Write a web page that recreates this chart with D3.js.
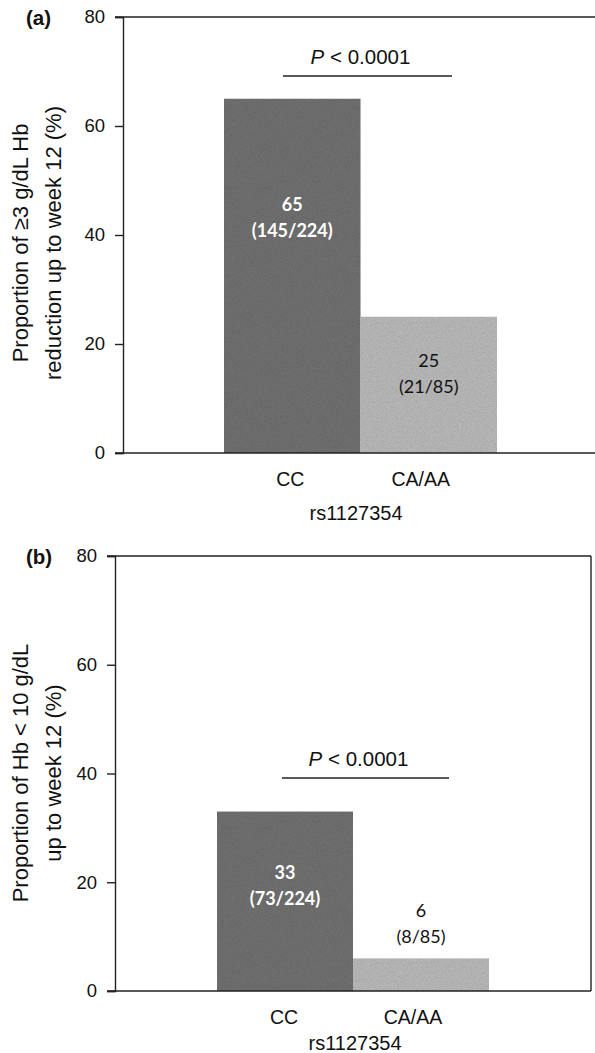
<!DOCTYPE html>
<html>
<head>
<meta charset="utf-8">
<script src="https://cdn.jsdelivr.net/npm/d3@7"></script>
<style>
  html, body { margin: 0; padding: 0; background: #fff; }
  svg { display: block; }
</style>
</head>
<body>
<script>
// ---- data ----
const categories = ["CC", "CA/AA"];
const yTicks = [0, 20, 40, 60, 80];
const valuesA = [65, 25];
const countsA = ["(145/224)", "(21/85)"];
const valuesB = [33, 6];
const countsB = ["(73/224)", "(8/85)"];
const pText = "< 0.0001";
const xTitle = "rs1127354";
const titleA = ["Proportion of \u22653 g/dL Hb", "reduction up to week 12 (%)"];
const titleB = ["Proportion of Hb < 10 g/dL", "up to week 12 (%)"];
const barColors = ["#6e6e6e", "#b6b6b6"];

const W = 595, H = 1053;
const svg = d3.select("body").append("svg").attr("width", W).attr("height", H);
const font = "'Liberation Sans', Arial, sans-serif";
const lblFont = "Lato, 'Open Sans', sans-serif";

function panel(cfg) {
  const g = svg.append("g");
  const y = d3.scaleLinear().domain([0, 80]).range([cfg.y0, cfg.y80]);
  const x = d3.scaleBand().domain(categories).range(cfg.barRange).paddingInner(0).paddingOuter(0);

  // bars
  g.selectAll("rect.bar").data(cfg.values).enter().append("rect")
    .attr("class", "bar")
    .attr("x", (d, i) => x(categories[i]))
    .attr("width", x.bandwidth())
    .attr("y", d => y(d))
    .attr("height", d => y(0) - y(d))
    .attr("fill", (d, i) => barColors[i])
    .attr("filter", "url(#grain)");

  // frame lines
  g.append("line").attr("x1", cfg.axisX - 8).attr("x2", cfg.rightX)
    .attr("y1", y(80)).attr("y2", y(80)).attr("stroke", "#222").attr("stroke-width", 1.4);
  g.append("line").attr("x1", cfg.axisX - 8).attr("x2", cfg.rightX)
    .attr("y1", y(0)).attr("y2", y(0)).attr("stroke", "#222").attr("stroke-width", 1.6);
  if (cfg.rightBorder) {
    g.append("line").attr("x1", cfg.rightX).attr("x2", cfg.rightX)
      .attr("y1", y(80)).attr("y2", y(0)).attr("stroke", "#222").attr("stroke-width", 1.4);
  }

  // y axis
  const ax = g.append("g").attr("transform", `translate(${cfg.axisX},0)`)
    .call(d3.axisLeft(y).tickValues(yTicks).tickSize(8).tickPadding(10));
  ax.select(".domain").attr("stroke", "#222").attr("stroke-width", 1.4);
  ax.selectAll(".tick line").attr("stroke", "#222").attr("stroke-width", 1.4);
  ax.selectAll(".tick text").attr("font-family", font).attr("font-size", 18.5).attr("fill", "#111");

  // x category labels
  g.selectAll("text.cat").data(categories).enter().append("text")
    .attr("x", (d, i) => x(d) + x.bandwidth() / 2 + cfg.catShift[i])
    .attr("y", y(0) + 33)
    .attr("text-anchor", "middle").attr("font-family", font).attr("font-size", 19.5).attr("fill", "#111")
    .text(d => d);
  g.append("text").attr("x", cfg.xTitleX).attr("y", y(0) + cfg.xTitleOff)
    .attr("text-anchor", "middle").attr("font-family", font).attr("font-size", 20).attr("fill", "#111")
    .text(xTitle);

  // y title
  cfg.title.forEach((t, i) => {
    g.append("text")
      .attr("transform", `translate(${cfg.titleX[i]},${cfg.titleY}) rotate(-90)`)
      .attr("text-anchor", "middle").attr("font-family", font).attr("font-size", 22).attr("fill", "#111")
      .text(t);
  });

  // panel letter
  g.append("text").attr("x", 26).attr("y", y(80) + 8)
    .attr("font-family", font).attr("font-weight", "bold").attr("font-size", 20.5).attr("fill", "#111")
    .text(cfg.letter);

  // p-value bracket
  g.append("line").attr("x1", cfg.pLine[0]).attr("x2", cfg.pLine[1])
    .attr("y1", cfg.pY).attr("y2", cfg.pY).attr("stroke", "#222").attr("stroke-width", 1.4);
  const pt = g.append("text").attr("x", (cfg.pLine[0] + cfg.pLine[1]) / 2 - 7).attr("y", cfg.pY - 12)
    .attr("text-anchor", "middle").attr("font-family", font).attr("font-size", 20.5).attr("fill", "#111");
  pt.append("tspan").attr("font-style", "italic").text("P");
  pt.append("tspan").text(" " + pText);

  // bar value labels
  cfg.values.forEach((v, i) => {
    const cx = x(categories[i]) + x.bandwidth() / 2;
    const ly = y(cfg.labelAt[i]);
    const col = cfg.labelColor[i];
    const w = col === "#ffffff" ? 700 : 400;
    g.append("text").attr("x", cx).attr("y", ly).attr("dy", "0.35em")
      .attr("text-anchor", "middle").attr("font-family", lblFont).attr("font-size", 18)
      .attr("fill", col).attr("font-weight", w).text(v);
    g.append("text").attr("x", cx).attr("y", ly + 26).attr("dy", "0.35em")
      .attr("text-anchor", "middle").attr("font-family", lblFont).attr("font-size", 18)
      .attr("fill", col).attr("font-weight", w).text(cfg.counts[i]);
  });
}

// grain filter
const defs = svg.append("defs");
const f = defs.append("filter").attr("id", "grain").attr("x", 0).attr("y", 0).attr("width", 1).attr("height", 1);
f.append("feTurbulence").attr("type", "fractalNoise").attr("baseFrequency", 1.2).attr("numOctaves", 1).attr("seed", 3).attr("result", "noise");
f.append("feColorMatrix").attr("in", "noise").attr("type", "matrix")
  .attr("values", "0 0 0 0 0  0 0 0 0 0  0 0 0 0 0  0 0 0 1.4 -0.55").attr("result", "dots");
f.append("feComposite").attr("in", "dots").attr("in2", "SourceGraphic").attr("operator", "in").attr("result", "dotsIn");
f.append("feComponentTransfer").attr("in", "dotsIn").attr("result", "dotsSoft")
  .append("feFuncA").attr("type", "linear").attr("slope", 0.35);
const m = f.append("feMerge");
m.append("feMergeNode").attr("in", "SourceGraphic");
m.append("feMergeNode").attr("in", "dotsSoft");

panel({
  letter: "(a)", values: valuesA, counts: countsA, title: titleA,
  y0: 453, y80: 17, axisX: 123, rightX: 595, rightBorder: false,
  barRange: [224, 497], catShift: [-2, -8], xTitleX: 356, xTitleOff: 67,
  titleX: [28, 61], titleY: 243,
  pLine: [283, 452], pY: 76,
  labelAt: [45.5, 17], labelColor: ["#ffffff", "#111111"]
});
panel({
  letter: "(b)", values: valuesB, counts: countsB, title: titleB,
  y0: 991, y80: 556, axisX: 115, rightX: 591, rightBorder: true,
  barRange: [217, 489], catShift: [-1, -8], xTitleX: 355, xTitleOff: 59,
  titleX: [28, 61], titleY: 773,
  pLine: [282, 449], pY: 778,
  labelAt: [21.8, 14.8], labelColor: ["#ffffff", "#111111"]
});
</script>
</body>
</html>
